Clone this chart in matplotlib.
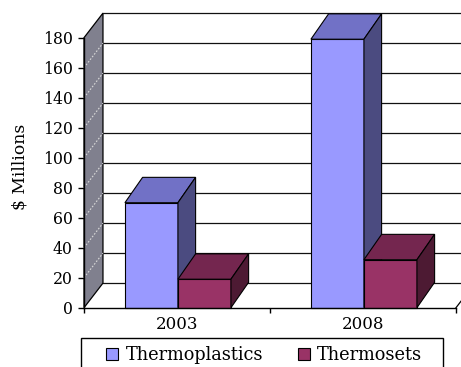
import matplotlib
matplotlib.use('Agg')
import matplotlib.pyplot as plt
from matplotlib.patches import Polygon, Rectangle

# ---- data ----
years = ['2003', '2008']
series_names = ['Thermoplastics', 'Thermosets']
thermoplastics = [70, 179]
thermosets = [19, 32]
yticks = [0, 20, 40, 60, 80, 100, 120, 140, 160, 180]
ylabel = '$ Millions'

# ---- style ----
front_cols = ['#9999FF', '#993366']
top_cols = ['#7171C6', '#74264F']
side_cols = ['#4B4B80', '#4D1A33']
FONT = 'DejaVu Serif'
plt.rcParams['font.family'] = [FONT, 'DejaVu Sans']

W, H = 461, 367
fig = plt.figure(figsize=(W / 100, H / 100), dpi=100)
ax = fig.add_axes([84 / W, (H - 307.7) / H, (456 - 84) / W, (307.7 - 37.7) / H])
ax.set_xlim(0, len(years))
ax.set_ylim(0, 180)
ax.patch.set_visible(False)

# depth of the 3D walls (data units)
wdx, wdy = 0.102, 16.4
bdx, bdy = 0.095, 16.9
ymax = yticks[-1]
xmax = len(years)

# back wall
ax.add_patch(Polygon([(wdx, wdy), (xmax + wdx, wdy), (xmax + wdx, ymax + wdy), (wdx, ymax + wdy)],
                     closed=True, facecolor='white', edgecolor='none', clip_on=False, zorder=0))
# side wall
ax.add_patch(Polygon([(0, 0), (wdx, wdy), (wdx, ymax + wdy), (0, ymax)],
                     closed=True, facecolor='#80808e', edgecolor='black', lw=0.9,
                     clip_on=False, zorder=1))
# floor right edge
ax.plot([xmax, xmax + wdx], [0, wdy], color='black', lw=0.9, clip_on=False, zorder=1)

# gridlines
for v in yticks:
    ax.plot([wdx, xmax + wdx], [v + wdy, v + wdy], color='#111111', lw=0.9, clip_on=False, zorder=1)
    if 0 < v < ymax:
        ax.plot([0, wdx], [v, v + wdy], color='#d8d8d8', lw=0.8, ls=(0, (1.5, 1.5)),
                clip_on=False, zorder=2)

# bars
bw = 0.285
offsets = [0.22, 0.22 + bw]
values = [thermoplastics, thermosets]
for i in range(len(years)):
    for s in range(len(series_names)):
        v = values[s][i]
        x0 = i + offsets[s]
        x1 = x0 + bw
        z = 3 + i * 3 + s
        ax.add_patch(Rectangle((x0, 0), bw, v, facecolor=front_cols[s], edgecolor='black',
                               lw=0.8, clip_on=False, zorder=z))
        ax.add_patch(Polygon([(x0, v), (x1, v), (x1 + bdx, v + bdy), (x0 + bdx, v + bdy)],
                             closed=True, facecolor=top_cols[s], edgecolor='black', lw=0.8,
                             clip_on=False, zorder=z))
        ax.add_patch(Polygon([(x1, 0), (x1 + bdx, bdy), (x1 + bdx, v + bdy), (x1, v)],
                             closed=True, facecolor=side_cols[s], edgecolor='black', lw=0.8,
                             clip_on=False, zorder=z))

# axes
for sp in ['top', 'right']:
    ax.spines[sp].set_visible(False)
for sp in ['left', 'bottom']:
    ax.spines[sp].set_color('black')
    ax.spines[sp].set_linewidth(1.0)
    ax.spines[sp].set_zorder(20)
ax.set_yticks(yticks)
ax.set_yticklabels([str(t) for t in yticks])
ax.tick_params(axis='y', direction='out', length=4.3, width=1, pad=4, labelsize=11.3)
ax.set_xticks(range(len(years) + 1))
ax.set_xticklabels([])
ax.tick_params(axis='x', which='major', direction='out', length=3.6, width=1)
ax.set_xticks([i + 0.5 for i in range(len(years))], minor=True)
ax.set_xticklabels(years, minor=True)
ax.tick_params(axis='x', which='minor', length=0, pad=6, labelsize=12)

ax.set_ylabel(ylabel, fontsize=12.3)
ax.yaxis.set_label_coords((29 - 84) / 372, (307.7 - 167) / 270)

# legend
handles = [Rectangle((0, 0), 1, 1, facecolor=c, edgecolor='black', lw=0.8) for c in front_cols]
leg = fig.legend(handles, series_names, loc='center left',
                 bbox_to_anchor=(106 / W, (H - 355) / H), ncol=2, frameon=False,
                 fontsize=12.8, handlelength=0.7, handleheight=0.7, handletextpad=0.4,
                 columnspacing=1.95, borderpad=0, borderaxespad=0)
fig.add_artist(Rectangle((80.7 / W, -0.05), (442.7 - 80.7) / W, (H - 337.7) / H + 0.05,
                         transform=fig.transFigure, facecolor='none', edgecolor='black', lw=1.0))

fig.savefig('out.png', dpi=100)
